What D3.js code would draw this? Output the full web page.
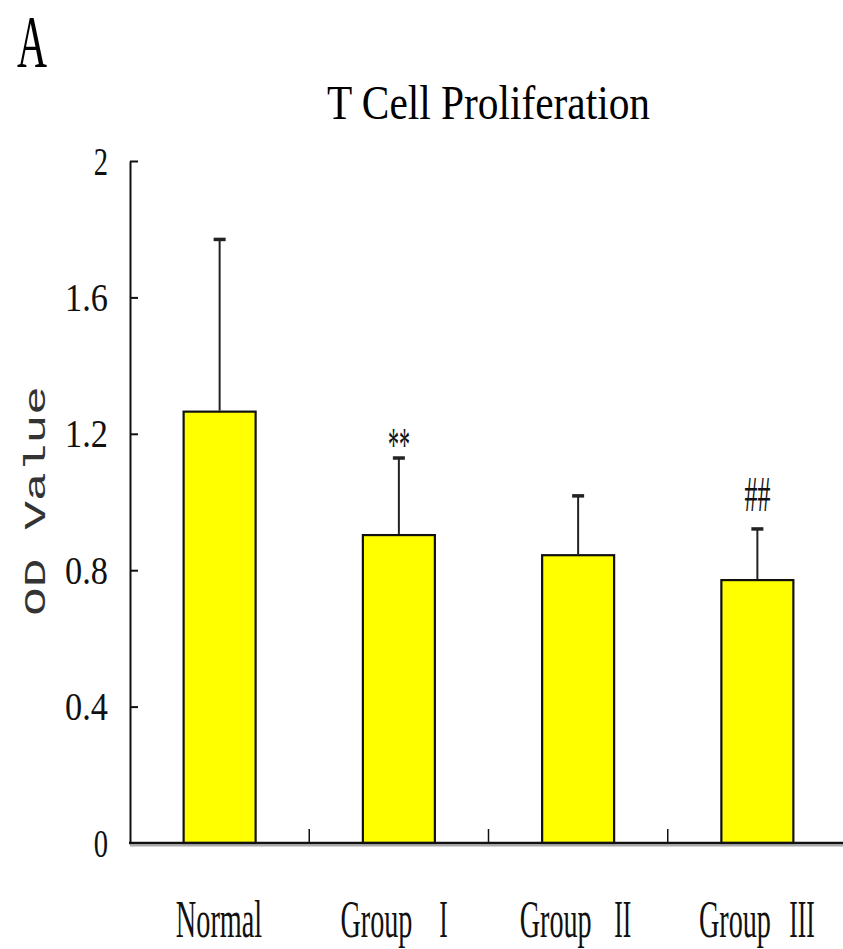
<!DOCTYPE html>
<html>
<head>
<meta charset="utf-8">
<script src="https://cdn.jsdelivr.net/npm/d3@7"></script>
<style>
  body { margin: 0; background: #fff; }
  svg { display: block; }
</style>
</head>
<body>
<div id="chart"></div>
<script>
  // values
  const categories = ["Normal", "Group I", "Group II", "Group III"];
  const means = [1.265, 0.903, 0.844, 0.771];
  const upperSD = [0.505, 0.226, 0.174, 0.150];
  const marks = ["", "**", "", "##"];
  const yTicks = [0, 0.4, 0.8, 1.2, 1.6, 2];

  const width = 843, height = 949;
  const serif = "'Liberation Serif', 'Times New Roman', serif";
  const mono = "'Liberation Mono', 'Courier New', monospace";

  const svg = d3.select("#chart")
    .append("svg")
    .attr("width", width)
    .attr("height", height);

  const x = d3.scaleBand().domain(categories).range([130, 847]);
  const y = d3.scaleLinear().domain([0, 2]).range([843, 161]);

  const data = categories.map(function (c, i) {
    return { name: c, mean: means[i], sd: upperSD[i], mark: marks[i] };
  });

  // the original font is tall and narrow: squeeze text horizontally to a width
  function squeeze(sel, widthFn, extra) {
    sel.each(function (d) {
      const t = d3.select(this);
      const tx = +t.attr("x") || 0, ty = +t.attr("y") || 0;
      const w = typeof widthFn === "function" ? widthFn.call(this, d) : widthFn;
      const k = w / this.getComputedTextLength();
      t.attr("x", 0).attr("y", 0)
        .attr("transform", "translate(" + tx + "," + ty + ")" + (extra || "") + " scale(" + k + ",1)");
    });
  }

  // panel letter and title
  svg.append("text")
    .attr("x", 17).attr("y", 67)
    .attr("font-family", serif).attr("font-size", 75)
    .text("A")
    .call(squeeze, 30);

  svg.append("text")
    .attr("x", 327).attr("y", 119)
    .attr("font-family", serif).attr("font-size", 49)
    .text("T Cell Proliferation")
    .call(squeeze, 323);

  // y axis, ticks pointing inward
  const yAxis = svg.append("g")
    .attr("transform", "translate(130,0)")
    .call(d3.axisLeft(y)
      .tickValues(yTicks)
      .tickSizeInner(-8)
      .tickSizeOuter(0)
      .tickPadding(22)
      .tickFormat(function (d) { return (d === 0 || d === 2) ? String(d) : d.toFixed(1); }));

  yAxis.select(".domain").attr("stroke", "#111").attr("stroke-width", 2);
  yAxis.selectAll(".tick line").attr("stroke", "#111").attr("stroke-width", 2)
    .filter(function (d) { return d === 0; }).remove();
  yAxis.selectAll(".tick text")
    .attr("font-family", serif)
    .attr("font-size", 41)
    .attr("fill", "#111")
    .call(squeeze, function () { return this.textContent.length * 14.3; });

  svg.append("text")
    .attr("x", 45).attr("y", 501)
    .attr("text-anchor", "middle")
    .attr("font-family", mono).attr("font-size", 30)
    .attr("fill", "#333")
    .text("OD Value")
    .call(squeeze, 230, " rotate(-90)");

  // bars
  svg.append("g")
    .selectAll("rect")
    .data(data)
    .enter()
    .append("rect")
    .attr("x", function (d) { return x(d.name) + x.bandwidth() / 2 - 36; })
    .attr("width", 72)
    .attr("y", function (d) { return y(d.mean); })
    .attr("height", function (d) { return y(0) - y(d.mean); })
    .attr("fill", "#ffff00")
    .attr("stroke", "#111")
    .attr("stroke-width", 2.2);

  // error bars (upper only)
  const err = svg.append("g")
    .selectAll("g")
    .data(data)
    .enter()
    .append("g")
    .attr("transform", function (d) { return "translate(" + (x(d.name) + x.bandwidth() / 2) + ",0)"; });

  err.append("line")
    .attr("y1", function (d) { return y(d.mean) - 1; })
    .attr("y2", function (d) { return y(d.mean + d.sd); })
    .attr("stroke", "#222").attr("stroke-width", 2);

  err.append("line")
    .attr("x1", -6).attr("x2", 6)
    .attr("y1", function (d) { return y(d.mean + d.sd); })
    .attr("y2", function (d) { return y(d.mean + d.sd); })
    .attr("stroke", "#222").attr("stroke-width", 3.5);

  // significance marks
  const markStyle = {
    "*": { size: 48, center: 0.535, lift: 23, len: 22 },
    "#": { size: 50, center: 0.34, lift: 35, len: 26 }
  };
  err.filter(function (d) { return d.mark !== ""; })
    .append("text")
    .attr("text-anchor", "middle")
    .attr("font-family", serif)
    .attr("font-size", function (d) { return markStyle[d.mark[0]].size; })
    .attr("y", function (d) {
      const s = markStyle[d.mark[0]];
      return y(d.mean + d.sd) - s.lift + s.center * s.size;
    })
    .attr("fill", "#111")
    .text(function (d) { return d.mark; })
    .call(squeeze, function (d) { return markStyle[d.mark[0]].len; });

  // x axis line and category dividers
  svg.append("line")
    .attr("x1", x.range()[0]).attr("x2", width)
    .attr("y1", y(0) + 2.5).attr("y2", y(0) + 2.5)
    .attr("stroke", "#aaa").attr("stroke-width", 2);
  svg.append("line")
    .attr("x1", x.range()[0] - 1).attr("x2", width)
    .attr("y1", y(0)).attr("y2", y(0))
    .attr("stroke", "#111").attr("stroke-width", 2.5);

  svg.append("g")
    .selectAll("line")
    .data(categories.slice(1))
    .enter()
    .append("line")
    .attr("x1", function (d) { return x(d); })
    .attr("x2", function (d) { return x(d); })
    .attr("y1", y(0))
    .attr("y2", y(0) - 14)
    .attr("stroke", "#111").attr("stroke-width", 1.5);

  // category labels: word plus roman numeral, in monospaced-like slots
  const labels = svg.append("g")
    .attr("font-family", serif)
    .attr("font-size", 52)
    .attr("fill", "#111")
    .selectAll("g")
    .data(categories)
    .enter()
    .append("g")
    .attr("transform", function (d) {
      const slots = d.indexOf(" ") > 0 ? 8 : d.length;
      return "translate(" + (x(d) + x.bandwidth() / 2 - slots * 14.6 / 2) + ",937)";
    });

  labels.append("text")
    .text(function (d) { return d.split(" ")[0]; })
    .call(squeeze, function (d) { return d.split(" ")[0].length * 14.4; });

  labels.filter(function (d) { return d.indexOf(" ") > 0; })
    .append("text")
    .attr("x", 103)
    .attr("text-anchor", "middle")
    .text(function (d) { return d.split(" ")[1]; })
    .call(squeeze, function (d) { return d.split(" ")[1].length * 8.5; });
</script>
</body>
</html>
